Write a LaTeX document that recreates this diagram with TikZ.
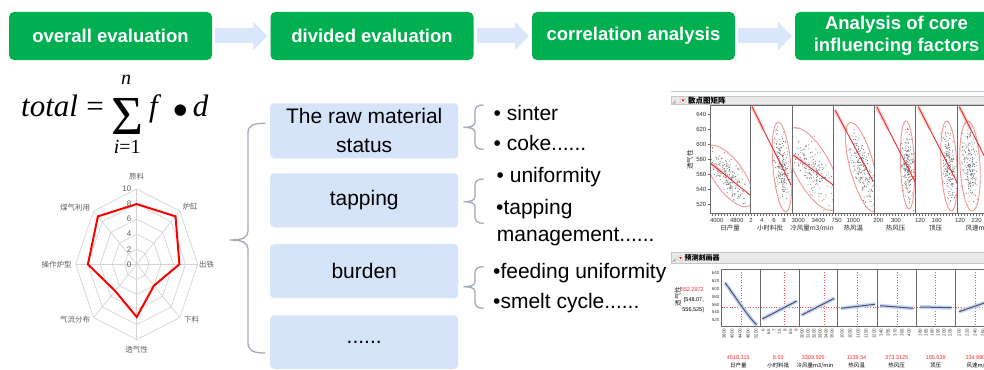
\documentclass[tikz,border=0pt]{standalone}
\usepackage{fontspec}
\setmainfont{Liberation Sans}
\newfontfamily\formulafont{Liberation Serif}
\newfontfamily\symfont{DejaVu Sans}
\newfontfamily\cjk{Noto Sans CJK SC}
\usetikzlibrary{arrows.meta,calc}

\definecolor{headgreen}{RGB}{0,176,80}
\definecolor{flowblue}{RGB}{218,230,252}
\definecolor{boxblue}{RGB}{214,228,250}
\definecolor{bracegray}{RGB}{160,170,186}
\definecolor{radargrid}{RGB}{212,212,212}
\definecolor{radartext}{RGB}{95,95,95}
\definecolor{jmpred}{RGB}{228,45,45}
\definecolor{jmppink}{RGB}{246,150,150}
\definecolor{dotgray}{RGB}{105,105,105}
\definecolor{panelframe}{RGB}{105,105,105}
\definecolor{barbg}{RGB}{234,234,234}
\definecolor{curveblue}{RGB}{72,82,108}
\definecolor{bandblue}{RGB}{200,214,246}
\definecolor{shotline}{RGB}{176,200,232}

\newcommand\setsz[1]{\fontsize{#1}{#1}\selectfont}

\tikzset{
  headbox/.style={rectangle, rounded corners=5pt, fill=headgreen, text=white,
    font=\fontsize{18.5}{21.5}\selectfont\bfseries, minimum width=203pt,
    minimum height=48pt, inner sep=0pt, align=center},
  flowarrow/.style={draw=flowblue, line width=15pt,
    -{Triangle[width=28pt,length=14pt]}},
  partbox/.style={rectangle, rounded corners=4pt, fill=boxblue, text=black,
    font=\fontsize{21}{29}\selectfont, minimum width=188pt, inner sep=0pt,
    align=center},
  item/.style={anchor=base west, font=\setsz{21}, inner sep=0pt},
  brace/.style={draw=bracegray, line width=1.3pt, line cap=round},
  radarline/.style={draw=radargrid, line width=0.7pt},
  radarlabel/.style={font=\cjk\setsz{7.5}, text=radartext, inner sep=0pt},
  radartick/.style={font=\setsz{8}, text=radartext, inner sep=0pt, anchor=east},
  frame/.style={draw=panelframe, line width=1pt},
  tinytxt/.style={font=\setsz{6}, inner sep=0pt, text=black!80},
  tinycjk/.style={font=\cjk\setsz{6.5}, inner sep=0pt, text=black!85},
  microtxt/.style={font=\setsz{4.5}, inner sep=0pt, text=black!75},
  bar/.style={fill=barbg, draw=gray!45, line width=0.5pt},
}

\begin{document}
\begin{tikzpicture}[x=1pt,y=-1pt]
\useasboundingbox[fill=white] (0,0) rectangle (984,369);

% ---------- process flow ----------
\node[headbox] (h1) at (110.5,36) {overall evaluation};
\node[headbox] (h2) at (372,36) {divided evaluation};
\node[headbox] (h3) at (633.5,36) {correlation analysis};
\node[headbox] (h4) at (896.5,36) {Analysis of core\\influencing factors};
\draw[flowarrow] ($(h1.east)+(3,0)$) -- ($(h2.west)+(-3,0)$);
\draw[flowarrow] ($(h2.east)+(3,0)$) -- ($(h3.west)+(-3,0)$);
\draw[flowarrow] ($(h3.east)+(3,0)$) -- ($(h4.west)+(-3,0)$);

% ---------- weighted sum ----------
\node[anchor=base west, inner sep=0pt, font=\formulafont\setsz{31}\itshape] (ftot) at (21,116.7) {total};
\node[anchor=base, inner sep=0pt, font=\formulafont\setsz{31}] (feq) at (95,116.7) {=};
\node[anchor=base, inner sep=0pt, text depth=0pt, font=\formulafont\setsz{55}] (fsum) at (127.5,134) {Σ};
\node[inner sep=0pt, font=\formulafont\setsz{20}\itshape] (fup) at (126,80) {n};
\node[inner sep=0pt, text depth=0pt, font=\formulafont\setsz{20}] (flow) at (127.3,147) {\itshape i\upshape =1};
\node[anchor=base, inner sep=0pt, font=\formulafont\setsz{31}\itshape] (ff) at (153.5,116.7) {f};
\node[inner sep=0pt, font=\symfont\setsz{15}] (fdot) at (180.5,111) {●};
\node[anchor=base, inner sep=0pt, font=\formulafont\setsz{31}\itshape] (fd) at (200.5,116.7) {d};

% ---------- radar chart ----------
\foreach \r in {2,4,6,8,10}
  \draw[radarline] ({136.7},{264.3-7.53*\r})
    \foreach \k in {1,...,7} { -- ({136.7+6.1*\r*sin(45*\k)},{264.3-7.53*\r*cos(45*\k)}) } -- cycle;
\foreach \k in {0,...,7}
  \draw[radarline] (136.7,264.3) -- ({136.7+61*sin(45*\k)},{264.3-75.3*cos(45*\k)});
\foreach \v [count=\k from 0] in {8,9,7,4,7,5,8,9}
  \coordinate (rv\k) at ({136.7+6.1*\v*sin(45*\k)},{264.3-7.53*\v*cos(45*\k)});
\draw[red, line width=2pt, line join=miter] (rv0) -- (rv1) -- (rv2) -- (rv3) -- (rv4) -- (rv5) -- (rv6) -- (rv7) -- cycle;
\foreach \v in {0,2,4,6,8,10}
  \node[radartick] at (131.5,{264.3-7.53*\v}) {\v};
\node[radarlabel] (ax0) at (136.7,176.7) {原料};
\node[radarlabel] (ax1) at (190,206.7) {炉缸};
\node[radarlabel] (ax2) at (206.7,264.3) {出铁};
\node[radarlabel] (ax3) at (191.7,320) {下料};
\node[radarlabel] (ax4) at (136.7,350) {透气性};
\node[radarlabel] (ax5) at (75,320) {气流分布};
\node[radarlabel] (ax6) at (56.7,264.3) {操作炉型};
\node[radarlabel] (ax7) at (75,208) {煤气利用};

% ---------- divided evaluation ----------
\node[partbox, minimum height=55pt] (b1) at (364.2,130.8) {The raw material\\status};
\node[partbox, minimum height=54pt] (b2) at (364.2,200.3) {tapping};
\node[partbox, minimum height=54pt] (b3) at (364.2,271.2) {burden};
\node[partbox, minimum height=53.5pt] (b4) at (364.2,342) {......};

\coordinate (bt) at (265,123.3);
\coordinate (btip) at (230,240);
\coordinate (bb) at (265,353);
\draw[brace] (bt) .. controls (254,123.3) and (248,125) .. (248,133) -- (248,231)
  .. controls (248,237) and (243,240) .. (btip)
  .. controls (243,240) and (248,243) .. (248,249) -- (248,343)
  .. controls (248,351) and (254,353) .. (bb);

\foreach \yt/\ym/\yb in {105/127.3/149.3, 179/201.7/223.3, 266.7/286.7/308.3}
  \draw[brace] (483.3,\yt) .. controls (478,\yt) and (475,\yt+2) .. (475,\yt+6) -- (475,\ym-5)
    .. controls (475,\ym-1) and (470,\ym) .. (463.3,\ym)
    .. controls (470,\ym) and (475,\ym+1) .. (475,\ym+5) -- (475,\yb-6)
    .. controls (475,\yb-2) and (478,\yb) .. (483.3,\yb);

\node[item] (i1) at (493.5,120) {• sinter};
\node[item] (i2) at (493.5,150) {• coke......};
\node[item] (i3) at (496.5,182.7) {• uniformity};
\node[item] (i4) at (496,214) {•tapping};
\node[item] (i5) at (496.7,241.7) {management......};
\node[item] (i6) at (493,278.3) {•feeding uniformity};
\node[item] (i7) at (493,308.3) {•smelt cycle......};

% ---------- scatterplot matrix window ----------
\draw[shotline, line width=0.8pt] (671,91) -- (990,91);
\draw[bar] (671,96.5) rectangle (990,104.5);
\fill[gray!60] (672,103.5) -- (675.5,103.5) -- (675.5,100) -- cycle;
\draw[gray!50, fill=white, line width=0.4pt] (683,100.5) circle (3);
\fill[red] (681.4,99.4) -- (684.6,99.4) -- (683,101.8) -- cycle;
\node[anchor=west, font=\cjk\setsz{7.5}\bfseries, inner sep=0pt] (smtitle) at (688,100.5) {散点图矩阵};

\pgfmathsetseed{4711}
\foreach \xa/\xb/\cx/\cy/\ang/\ea/\eb/\lxa/\lya/\lxb/\lyb in {
  710/750.7/729/176/55/36/15/710.7/163.3/750/195,
  750.7/792/782/167/85/45/9/752/106.7/791/185,
  792/833.3/813/169/62/46/18/793.3/155/833.3/185,
  833.3/874.3/862/167/75/46/12/835/110/873.3/181.7,
  874.3/915.7/907.5/165/88/44/7/876.7/106.7/915/181.7,
  915.7/957/949/166/87/45/8/918.3/106.7/956.7/181.7,
  957/998/970/166/87/45/10/959.3/106.7/997/181}{
  \begin{scope}
    \clip (\xa,105.7) rectangle (\xb,213.3);
    \foreach \k in {1,...,210}{
      \pgfmathsetmacro\su{(rnd+rnd+rnd-1.5)*2*\ea/2.6}
      \pgfmathsetmacro\sv{(rnd+rnd+rnd-1.5)*2*\eb/2.6}
      \fill[dotgray] ({\cx+\su*cos(\ang)-\sv*sin(\ang)},{\cy+\su*sin(\ang)+\sv*cos(\ang)}) circle (0.5);
    }
    \draw[jmppink, line width=0.9pt, rotate around={-\ang:(\cx,\cy)}] (\cx,\cy) ellipse [x radius=\ea, y radius=\eb];
    \draw[jmppink, line width=3.5pt, opacity=0.45] (\lxa,\lya) -- ($(\lxa,\lya)!0.3!(\lxb,\lyb)$);
    \draw[jmpred, line width=0.9pt] (\lxa,\lya) -- (\lxb,\lyb);
  \end{scope}
  \draw[frame] (\xa,105.7) rectangle (\xb,213.3);
}
\foreach \v [count=\i from 0] in {640,620,600,580,560,540,520}{
  \node[tinytxt, anchor=east] at (706.5,{114.3+15*\i}) {\v};
  \draw[panelframe, line width=0.5pt] (707.5,{114.3+15*\i}) -- (710,{114.3+15*\i});
}
\foreach \x in {712,715,...,984}
  \draw[panelframe, line width=0.4pt] (\x,213.3) -- (\x,215.8);
\foreach \x/\t in {716.7/4000, 736.7/4800, 751/2, 761.7/4, 774/6, 784/8, 798.3/3000,
    818.3/3400, 836.7/750, 853.3/1000, 878.3/200, 896/300, 920/120, 936.7/160,
    960/120, 976.7/220}
  \node[tinytxt] at (\x,220.5) {\t};
\foreach \x/\t in {730/{日产量}, 770/{小时料批}, 812/{冷风量m3/min}, 853.3/{热风温},
    895.7/{热风压}, 935.7/{顶压}, 978/{风速m/s}}
  \node[tinycjk] at (\x,228.5) {\t};
\node[tinycjk, rotate=90] (smy) at (690,160) {透气性};

% ---------- prediction profiler window ----------
\draw[bar] (671,252.7) rectangle (990,263.3);
\fill[gray!60] (672,261.5) -- (675.5,261.5) -- (675.5,258) -- cycle;
\draw[gray!50, fill=white, line width=0.4pt] (680.5,258) circle (2.6);
\fill[red] (679.1,257) -- (681.9,257) -- (680.5,259.2) -- cycle;
\node[anchor=west, font=\cjk\setsz{7}\bfseries, inner sep=0pt] (pftitle) at (684.5,258) {预测刻画器};

\foreach \xa/\xb in {721.7/760, 760/799, 799/837.7, 837.7/877.7, 877.7/916.7, 916.7/955.7, 955.7/995}
  \fill[white] (\xa,269.3) rectangle (\xb,326);
\draw[red!70, dotted, line width=0.6pt] (721.7,307.7) -- (984,307.7);
\foreach \x in {741, 784, 824.3, 857.3, 897.3, 935.7, 975}
  \draw[red!70, dotted, line width=0.6pt] (\x,269.3) -- (\x,326);

\draw[bandblue, line width=4pt] (725,282.7) .. controls (737,299) and (746,314) .. (756.7,325);
\draw[curveblue, line width=1pt] (725,282.7) .. controls (737,299) and (746,314) .. (756.7,325);
\foreach \ax/\ay/\bx/\by in {762.3/319/796.7/301, 801.7/315/834.3/298.3, 841/308.3/875/304.3,
    880/305.7/913.3/308.3, 920/307/951.7/307.7, 959/311.7/990/301}{
  \draw[bandblue, line width=4pt] (\ax,\ay) -- (\bx,\by);
  \draw[curveblue, line width=1pt] (\ax,\ay) -- (\bx,\by);
}
\foreach \xa/\xb in {721.7/760, 760/799, 799/837.7, 837.7/877.7, 877.7/916.7, 916.7/955.7, 955.7/995}
  \draw[frame] (\xa,269.3) rectangle (\xb,326);

\foreach \v [count=\i from 0] in {640,620,600,580,560,540,520}
  \node[microtxt, anchor=east] at (719.5,{273.3+7.8*\i}) {\v};
\node[font=\setsz{5.5}, text=red!85, inner sep=0pt, anchor=east] (pfv) at (704,289.3) {552.2972};
\node[font=\setsz{5.5}, inner sep=0pt, anchor=east] (pfl) at (704,300) {[548.07,};
\node[font=\setsz{5.5}, inner sep=0pt, anchor=east] (pfu) at (704,310) {556.525]};
\node[tinycjk, rotate=90] (pfy) at (678,296.7) {透气性};

\foreach \x/\t in {724/3600, 732/4000, 740/4400, 748/4800, 756/5200,
    763/6, 768.5/6.5, 774/7, 779.5/7.5, 785/8, 790.5/8.5, 796/9,
    802/3000, 808/3100, 814/3200, 820/3300, 826/3400, 832/3500,
    842/1000, 850/1050, 858/1100, 866/1150, 874/1200,
    881/340, 888/355, 895/370, 902/385, 909/400,
    920/180, 926/185, 932/190, 938/195, 944/200, 950/205,
    959/200, 967/220, 975/240, 983/260}
  \node[microtxt, rotate=90, anchor=east] at (\x,328.5) {\t};

\foreach \x/\t in {738.3/4518.315, 778.3/8.03, 813.3/3309.505, 856.7/1139.54,
    896.7/373.3125, 935.7/195.639, 977/234.9805}
  \node[font=\setsz{5.5}, text=red!85, inner sep=0pt] at (\x,357.3) {\t};
\foreach \x/\t in {738.3/{日产量}, 778.3/{小时料批}, 815/{冷风量m3/min}, 856.7/{热风温},
    896.7/{热风压}, 935.7/{顶压}, 977/{风速m/s}}
  \node[font=\cjk\setsz{5.5}, inner sep=0pt] at (\x,365.5) {\t};
\end{tikzpicture}
\end{document}
